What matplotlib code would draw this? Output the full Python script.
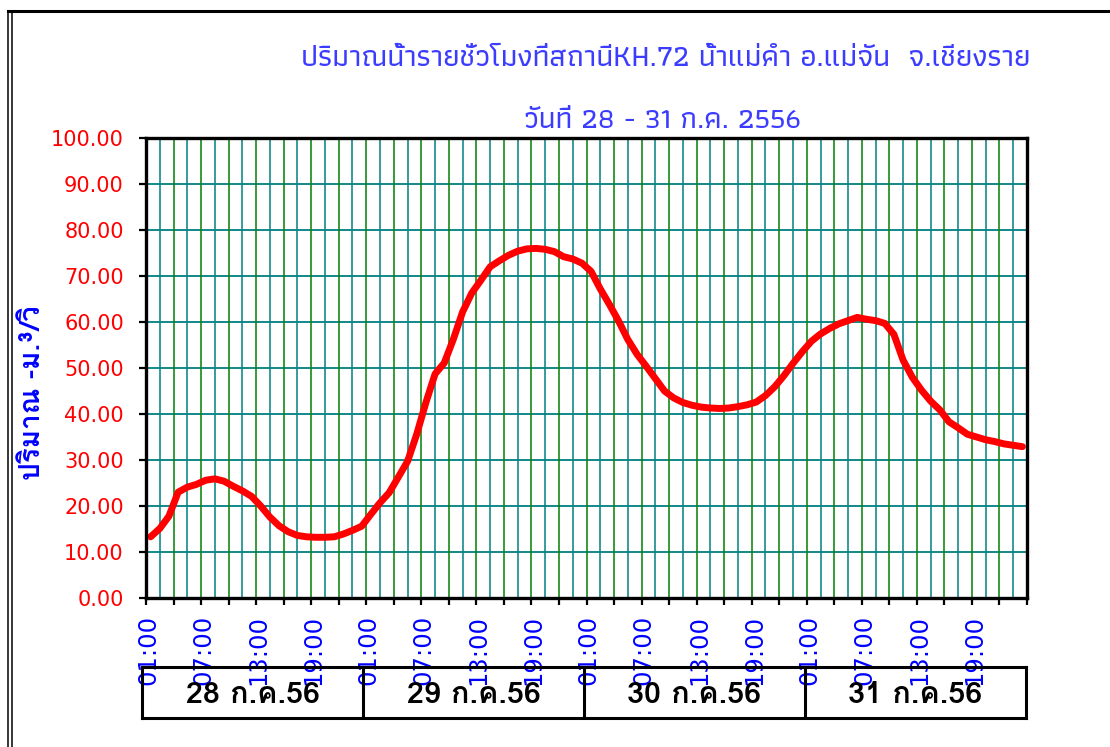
import matplotlib
matplotlib.use("Agg")
import matplotlib.pyplot as plt
from matplotlib.lines import Line2D
import numpy as np

# ---------------- data ----------------
title_line1 = "ปริมาณน้ำรายชั่วโมงที่สถานีKH.72 น้ำแม่คำ อ.แม่จัน  จ.เชียงราย"
title_line2 = "วันที่ 28 - 31 ก.ค. 2556"
y_label = "ปริมาณ -ม.³/วิ"
day_labels = ["28 ก.ค.56", "29 ก.ค.56", "30 ก.ค.56", "31 ก.ค.56"]
hour_labels = ["01:00", "07:00", "13:00", "19:00"]
y_ticks = [0, 10, 20, 30, 40, 50, 60, 70, 80, 90, 100]

# hourly discharge (m3/s), 28 Jul 01:00 -> 31 Jul 24:00
flow = [
    13.3, 15.1, 17.8, 23.0, 24.1, 24.7, 25.6, 25.9, 25.4, 24.3, 23.3, 22.1,
    20.0, 17.6, 15.7, 14.4, 13.6, 13.3, 13.2, 13.2, 13.3, 13.9, 14.7, 15.6,
    18.2, 20.7, 22.9, 26.3, 29.7, 35.6, 42.5, 48.7, 51.1, 56.3, 62.2, 66.3,
    69.1, 72.0, 73.3, 74.5, 75.4, 75.9, 76.0, 75.8, 75.3, 74.2, 73.7, 72.8,
    71.0, 67.2, 63.8, 60.2, 56.2, 53.0, 50.4, 47.7, 45.0, 43.5, 42.5, 41.9,
    41.5, 41.3, 41.2, 41.3, 41.6, 42.0, 42.6, 44.0, 45.9, 48.3, 51.0, 53.5,
    55.8, 57.4, 58.6, 59.6, 60.3, 61.0, 60.6, 60.3, 59.7, 57.3, 51.7, 48.0,
    45.2, 42.8, 40.9, 38.3, 37.0, 35.6, 35.0, 34.4, 34.0, 33.5, 33.2, 32.9,
]

# ---------------- figure ----------------
W, H = 1110, 747
fig = plt.figure(figsize=(W / 100, H / 100), dpi=100)
fig.patch.set_facecolor("white")

def fx(px):
    return px / W

def fy(py):
    return 1 - py / H

ax = fig.add_axes([fx(146), fy(598), fx(1027) - fx(146), fy(138) - fy(598)])
n_hours = len(flow)
x = np.arange(n_hours) + 0.5
ax.set_xlim(0, n_hours)
ax.set_ylim(0, 100)

# gridlines
for yv in y_ticks[1:-1]:
    ax.axhline(yv, color="#008080", lw=1.3, zorder=1)
for k in range(1, int(n_hours / 1.5)):
    xv = k * 1.5
    col = "#008000" if k % 2 == 0 else "#008080"
    ax.axvline(xv, color=col, lw=1.1, zorder=1)

ax.plot(x, flow, color="#ff0000", lw=5.0, solid_capstyle="round",
        solid_joinstyle="round", zorder=3)

for s in ax.spines.values():
    s.set_linewidth(2.4)
    s.set_color("black")
    s.set_zorder(4)

# y axis
ax.set_yticks(y_ticks)
ax.set_yticklabels([f"{v:.2f}" for v in y_ticks])
ax.tick_params(axis="y", colors="black", labelcolor="#ff0000", labelsize=15,
               length=5, width=1.6, pad=11, direction="out")
for t in ax.get_yticklabels():
    t.set_family("DejaVu Sans")

# x axis: major ticks every 3 h, labels every 6 h
ax.set_xticks(np.arange(0, n_hours + 0.1, 3))
ax.set_xticklabels([])
ax.tick_params(axis="x", which="major", length=5, width=1.6, direction="out")
lab_pos = np.arange(0, n_hours, 6) + 0.25
lab_txt = [hour_labels[i % 4] for i in range(len(lab_pos))]
ax.set_xticks(lab_pos, minor=True)
ax.set_xticklabels(lab_txt, minor=True, rotation=90, color="#0000ff",
                   fontsize=17.5, va="top", ha="center")
ax.tick_params(axis="x", which="minor", length=0, pad=12)

# y label
fig.text(fx(33), fy(393), y_label, rotation=90, ha="center", va="center",
         color="#0000ff", fontsize=20, fontweight="bold",
         family=["Loma", "DejaVu Sans"])

# titles
fig.text(fx(666), fy(58), title_line1, ha="center", va="center",
         color="#3c3cff", fontsize=21.8, family=["Athiti", "DejaVu Sans"],
         fontweight=500)
fig.text(fx(662), fy(120), title_line2, ha="center", va="center",
         color="#3c3cff", fontsize=21.5, family=["Athiti", "DejaVu Sans"],
         fontweight=500)

# date table under the axis
tab = fig.add_axes([fx(142), fy(718), fx(1026) - fx(142), fy(667) - fy(718)])
tab.set_facecolor("none")
tab.set_xlim(0, len(day_labels))
tab.set_ylim(0, 1)
tab.set_xticks([])
tab.set_yticks([])
for s in tab.spines.values():
    s.set_linewidth(2.2)
for i in range(1, len(day_labels)):
    tab.axvline(i, color="black", lw=2.2)
for i, d in enumerate(day_labels):
    tab.text(i + 0.5, 0.45, d, ha="center", va="center", fontsize=22,
             fontweight="bold", color="black", family=["Loma", "DejaVu Sans"])

# outer frame lines
fig.add_artist(Line2D([fx(8), fx(1110)], [fy(11), fy(11)], color="black", lw=2.2))
fig.add_artist(Line2D([fx(8), fx(8)], [fy(11), fy(747)], color="black", lw=1.1))
fig.add_artist(Line2D([fx(11.5), fx(11.5)], [fy(12), fy(747)], color="black", lw=1.1))

fig.savefig("out.png", dpi=100)
